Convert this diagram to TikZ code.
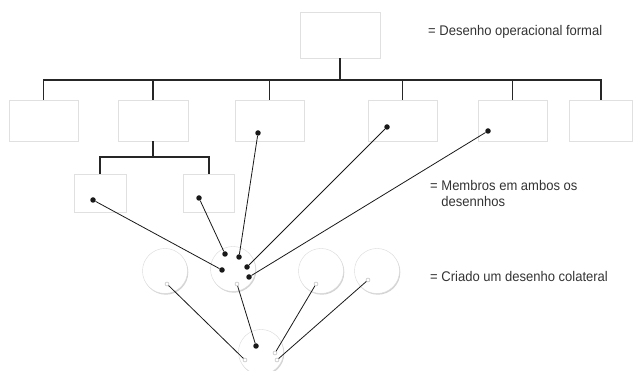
\documentclass[tikz,border=0pt]{standalone}
\usepackage{fontspec}
\setmainfont{Liberation Sans}[FakeStretch=0.93]
\usetikzlibrary{shadows}

\tikzset{
  box/.style={draw=black!12, fill=white, minimum width=69pt, minimum height=41pt,
    drop shadow={shadow xshift=0pt, shadow yshift=-1.2pt, fill=black!35, opacity=.5}},
  sbox/.style={box, minimum width=52pt, minimum height=38pt},
  disc/.style={circle, draw=black!15, fill=white, minimum size=45pt, inner sep=0pt,
    drop shadow={shadow xshift=.8pt, shadow yshift=-1.2pt, fill=black!35, opacity=.5}},
  tree/.style={draw=black!85, line width=1.8pt},
  link/.style={draw=black!90, line width=.8pt},
  dot/.style={circle, fill=black!90, inner sep=0pt, minimum size=5.5pt},
  ring/.style={circle, draw=black!30, fill=white, inner sep=0pt, minimum size=4pt, line width=.4pt},
  legend/.style={anchor=base west, text=black!80, font=\fontsize{14}{16}\selectfont, inner sep=0pt}
}

\begin{document}
\begin{tikzpicture}[x=1pt, y=-1pt]
\useasboundingbox (0,0) rectangle (633,371);
% formal chart
\node[box, minimum width=80pt, minimum height=46pt] (top) at (340,35) {};
\node[box] (b1) at (43.5,120.5) {};
\node[box, minimum width=70pt] (b2) at (153,120.5) {};
\node[box] (b3) at (269.5,120.5) {};
\node[box] (b4) at (402.5,120.5) {};
\node[box] (b5) at (512.5,120.5) {};
\node[box, minimum width=63pt] (b6) at (601,120.5) {};
\node[sbox] (sA) at (100,193) {};
\node[sbox, minimum width=51pt] (sB) at (209,193) {};
\foreach \b in {b1,b2,b3,b4,b5,b6}
  \draw[tree] (top.south) -- ++(0,22) -| (\b.north);
\foreach \b in {sA,sB}
  \draw[tree] (b2.south) -- ++(0,16) -| (\b.north);

% collateral circles
\node[disc] (cL) at (165,271) {};
\node[disc] (cM) at (233,269) {};
\node[disc] (cR) at (321,271) {};
\node[disc] (cS) at (377,271) {};
\node[disc] (cB) at (261,352) {};

% members
\node[dot] (p3) at (258,133) {};
\node[dot] (p4) at (387,127) {};
\node[dot] (p5) at (488,131) {};
\node[dot] (pA) at (93,200) {};
\node[dot] (pB) at (199,198) {};
\node[dot] (mB) at (225,254) {};
\node[dot] (m3) at (239,257) {};
\node[dot] (mA) at (222,270) {};
\node[dot] (m4) at (247,267) {};
\node[dot] (m5) at (249,277) {};
\node[dot] (mD) at (256,346) {};
\node[ring] (rM) at (237,284) {};
\node[ring] (rL) at (167,284) {};
\node[ring] (rR) at (316,284) {};
\node[ring] (rS) at (368,280) {};
\node[ring] (qL) at (245,360) {};
\node[ring] (qR) at (275,353) {};
\node[ring] (qS) at (277,360) {};

\draw[link] (pA) -- (mA);
\draw[link] (pB) -- (mB);
\draw[link] (p3) -- (m3);
\draw[link] (p4) -- (m4);
\draw[link] (p5) -- (m5);
\draw[link] (rM) -- (mD);
\draw[link] (rL) -- (qL);
\draw[link] (rR) -- (qR);
\draw[link] (rS) -- (qS);

% legend
\node[legend] (l1) at (428,36) {= Desenho operacional formal};
\node[legend, align=left] (l2) at (430,207) {= Membros em ambos os\\\phantom{= }desennhos};
\node[legend] (l3) at (430,282) {= Criado um desenho colateral};
\end{tikzpicture}
\end{document}
